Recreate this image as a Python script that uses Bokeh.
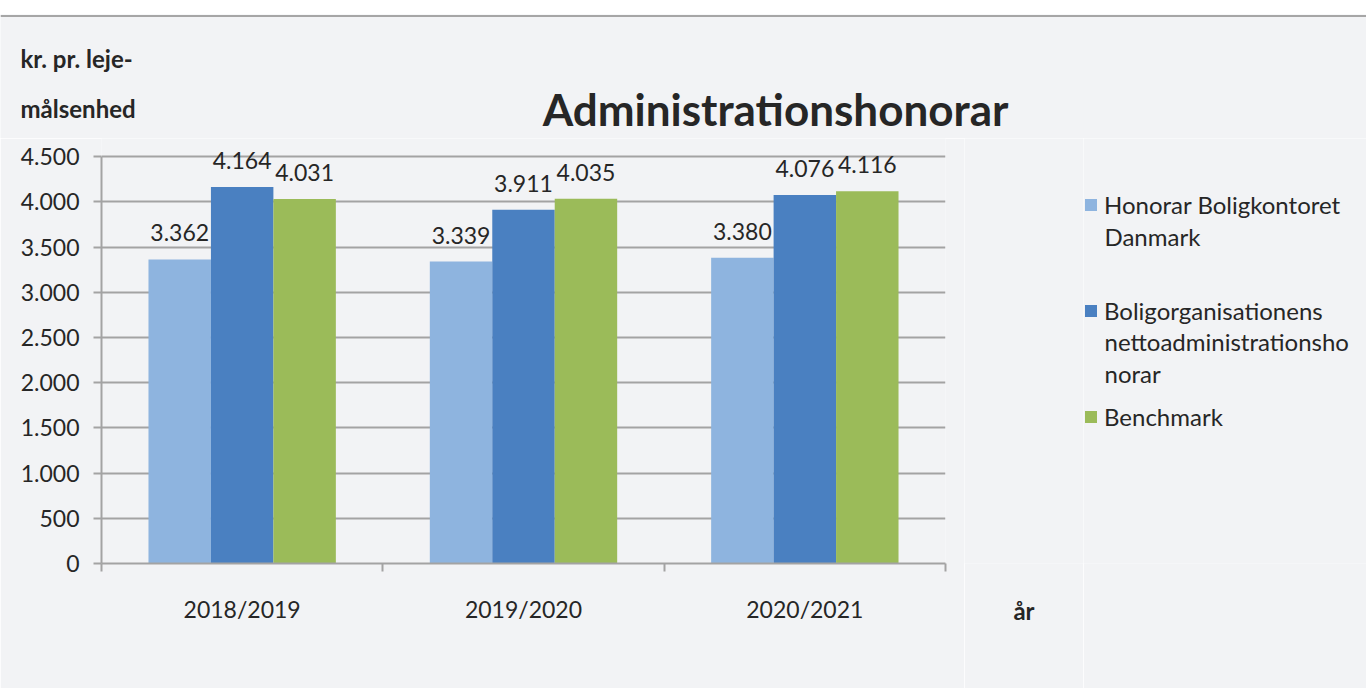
from bokeh.plotting import figure
from bokeh.models import (Range1d, FixedTicker, ColumnDataSource, LinearAxis,
                          LabelSet, Label, Legend, LegendItem, Spacer, Span)
from bokeh.transform import dodge
from bokeh.layouts import column, row
from bokeh.core.properties import value
from bokeh.embed import file_html
from bokeh.resources import INLINE

# ---- data ----
years = ["2018/2019", "2019/2020", "2020/2021"]
honorar_bkd = [3362, 3339, 3380]
netto_admin = [4164, 3911, 4076]
benchmark = [4031, 4035, 4116]
# legend labels as wrapped in the original (first line, continuation lines)
series_names = [["Honorar Boligkontoret", "Danmark"],
                ["Boligorganisationens", "nettoadministrationsho", "norar"],
                ["Benchmark"]]
y_ticks = [0, 500, 1000, 1500, 2000, 2500, 3000, 3500, 4000, 4500]
y_tick_labels = ["0", "500", "1.000", "1.500", "2.000", "2.500", "3.000", "3.500", "4.000", "4.500"]
y_label_lines = ["kr. pr. leje-", "målsenhed"]
x_label = "år"
title_text = "Administrationshonorar"

# ---- style ----
bg = "#F2F3F5"
grid_c = "#A3A3A3"
border_c = "#A6A6A6"
txt_c = "#262626"
colors = ["#8EB4DF", "#4A80C1", "#9BBB59"]
font = "Lato"
fs = "23px"


def fmt(v):
    return f"{v:,}".replace(",", ".")


def blank_fig(w, h, **kw):
    f = figure(width=w, height=h, x_range=Range1d(0, w), y_range=Range1d(0, h),
               output_backend="svg", toolbar_location=None,
               x_axis_location=None, y_axis_location=None,
               min_border_left=0, min_border_right=0, min_border_top=0,
               background_fill_color=bg, border_fill_color=bg, outline_line_color=None, **kw)
    f.grid.visible = False
    return f


# category slots on a linear scale: category i occupies [i, i+1]
n = len(years)
cat_centers = [i + 0.5 for i in range(n)]
cat_bounds = [float(i) for i in range(n + 1)]

cols = ["bkd", "netto", "bench"]
src = ColumnDataSource(dict(
    xc=cat_centers,
    bkd=honorar_bkd, netto=netto_admin, bench=benchmark,
    bkd_l=[fmt(v) for v in honorar_bkd],
    netto_l=[fmt(v) for v in netto_admin],
    bench_l=[fmt(v) for v in benchmark],
))

# ---------------- main chart ----------------
p = figure(x_range=Range1d(0, n), y_range=Range1d(0, 4700),
           width=964, height=550, output_backend="svg", toolbar_location=None,
           min_border_left=101, min_border_right=19, min_border_top=0, min_border_bottom=125,
           background_fill_color=bg, border_fill_color=bg, outline_line_color=None)

ya = p.yaxis[0]
ya.ticker = FixedTicker(ticks=y_ticks)
ya.major_label_overrides = dict(zip(y_ticks, y_tick_labels))
ya.bounds = (0, 4500)
ya.axis_line_color = grid_c
ya.axis_line_width = 2
ya.major_tick_line_color = grid_c
ya.major_tick_line_width = 2
ya.major_tick_out = 8
ya.major_tick_in = 0
ya.minor_tick_line_color = None
ya.major_label_text_font = font
ya.major_label_text_font_size = fs
ya.major_label_text_color = txt_c
ya.major_label_standoff = 14

p.ygrid.ticker = FixedTicker(ticks=y_ticks)
p.ygrid.grid_line_color = grid_c
p.ygrid.grid_line_width = 2
p.xgrid.visible = False

xa = p.xaxis[0]
xa.ticker = FixedTicker(ticks=cat_centers, minor_ticks=cat_bounds)
xa.major_label_overrides = dict(zip(cat_centers, years))
xa.axis_line_color = grid_c
xa.axis_line_width = 2
xa.major_tick_line_color = None
xa.major_tick_out = 0
xa.major_tick_in = 0
xa.minor_tick_line_color = grid_c
xa.minor_tick_line_width = 2
xa.minor_tick_out = 8
xa.minor_tick_in = 0
xa.major_label_text_font = font
xa.major_label_text_font_size = fs
xa.major_label_text_color = txt_c
xa.major_label_standoff = 23

bw = 0.222
offs = [-bw, 0.0, bw]
for col, off, c in zip(cols, offs, colors):
    p.vbar(x=dodge("xc", off), top=col, width=bw, source=src,
           fill_color=c, line_color=None)
    p.add_layout(LabelSet(x=dodge("xc", off), y=col, text=col + "_l",
                          source=src, y_offset=18, text_align="center",
                          text_baseline="alphabetic", text_font=value(font),
                          text_font_size=fs, text_color=txt_c))

# ---------------- title strip ----------------
top = blank_fig(1366, 124, min_border_bottom=0)
top.add_layout(Span(location=122.5, dimension="width", line_color=border_c, line_width=2))
top.add_layout(Label(x=775, y=30, x_units="screen", y_units="screen", text=title_text,
                     text_font=font, text_font_style="bold", text_font_size="44px",
                     text_align="center", text_baseline="alphabetic", text_color=txt_c))
top.add_layout(Label(x=20, y=80, x_units="screen", y_units="screen", text=y_label_lines[0],
                     text_font=font, text_font_style="bold", text_font_size="24px",
                     text_align="left", text_baseline="alphabetic", text_color=txt_c))
top.add_layout(Label(x=20, y=30, x_units="screen", y_units="screen", text=y_label_lines[1],
                     text_font=font, text_font_style="bold", text_font_size="24px",
                     text_align="left", text_baseline="alphabetic", text_color=txt_c))

# ---------------- x-axis title "år" (label of a tick-less axis) ----------------
far = blank_fig(119, 550, min_border_bottom=125)
xt = LinearAxis(ticker=FixedTicker(ticks=[]), axis_label=x_label)
xt.axis_line_color = None
xt.major_tick_line_color = None
xt.minor_tick_line_color = None
xt.major_tick_out = 0
xt.minor_tick_out = 0
xt.major_label_text_font_size = "0px"
xt.major_label_standoff = 0
xt.axis_label_text_font = font
xt.axis_label_text_font_style = "bold"
xt.axis_label_text_font_size = "24px"
xt.axis_label_text_color = txt_c
xt.axis_label_standoff = 32
far.add_layout(xt, "below")

# ---------------- legend panel (frame aligned with the chart frame) ----------------
lf = blank_fig(283, 550, min_border_bottom=125)
items = []
for col, names, c in zip(cols, series_names, colors):
    # zero-width proxy bars: carry the series colour into the legend, draw nothing
    r = lf.vbar(x="xc", top=col, width=0, source=src, fill_color=c, line_color=None)
    items.append(LegendItem(label=names[0], renderers=[r]))
leg = Legend(items=items, location=(0, 131), label_text_font=font, label_text_font_size="24px",
             label_text_color=txt_c, glyph_width=15, glyph_height=15, label_standoff=6,
             label_height=32, spacing=74, padding=0, margin=0, border_line_color=None,
             background_fill_alpha=0)
lf.add_layout(leg)
# continuation lines of the wrapped legend labels
cont_y = {0: [327], 1: [222, 190]}
for i, ys in cont_y.items():
    for line, yy in zip(series_names[i][1:], ys):
        lf.add_layout(Label(x=21, y=yy, x_units="screen", y_units="screen", text=line,
                            text_font=font, text_font_size="24px", text_align="left",
                            text_baseline="middle", text_color=txt_c))

layout = column(Spacer(height=14, width=1366), top, row(p, far, lf))
open("out.html", "w").write(file_html(layout, INLINE))
